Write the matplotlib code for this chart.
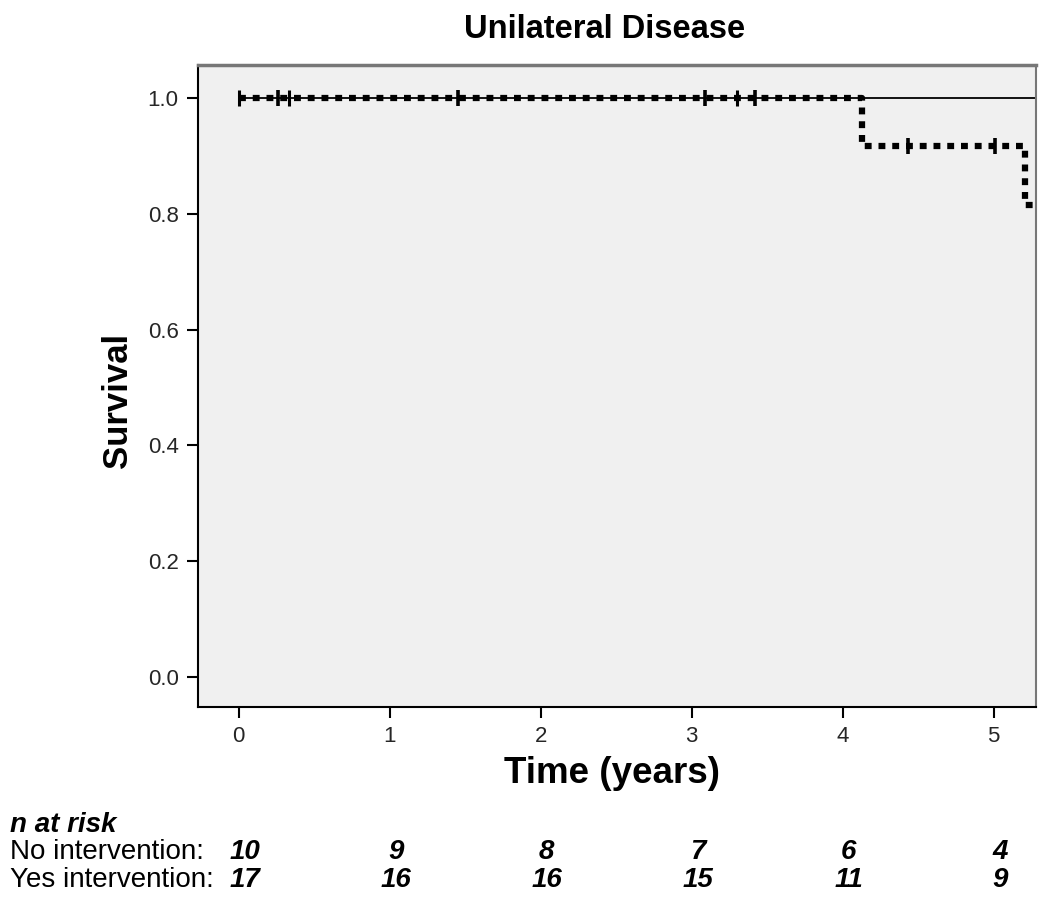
import numpy as np
import matplotlib
matplotlib.use("Agg")
from matplotlib import pyplot as plt
import matplotlib.transforms as mtransforms

plt.rcParams['font.family'] = ['Liberation Sans', 'DejaVu Sans']

# step curves (time in years, survival)
no_times = [0.0, 5.28]
no_surv = [1.0, 1.0]
no_cens_t = [0.0, 0.33, 3.30]
no_cens_s = [1.0, 1.0, 1.0]

yes_times = [0.0, 4.13, 5.21, 5.28]
yes_surv = [1.0, 0.917, 0.815, 0.815]
yes_cens_t = [0.26, 1.45, 3.09, 3.42, 4.43, 5.01]
yes_cens_s = [1.0, 1.0, 1.0, 1.0, 0.917, 0.917]

risk_times = [0, 1, 2, 3, 4, 5]
risk_no = [10, 9, 8, 7, 6, 4]
risk_yes = [17, 16, 16, 15, 11, 9]

fig = plt.figure(figsize=(10.5, 8.98), dpi=100)
ax = fig.add_axes([0.1886, 0.2127, 0.798, 0.715])
ax.set_facecolor('#f0f0f0')

ax.plot(no_times, no_surv, color='black', lw=1.3, drawstyle='steps-post', zorder=2)
ax.plot(yes_times, yes_surv, color='black', lw=4.5, drawstyle='steps-post',
        linestyle=(0, (1.1, 1.1)), dash_capstyle='butt', zorder=3)
ax.plot(no_cens_t, no_cens_s, ls='none', marker='|', ms=12, mew=2.2, color='black', zorder=4)
ax.plot(yes_cens_t, yes_cens_s, ls='none', marker='|', ms=12, mew=2.6, color='black', zorder=4)

ax.set_xlim(-0.27, 5.28)
ax.set_ylim(-0.052, 1.057)
ax.set_xticks(risk_times)
ax.set_yticks([0.0, 0.2, 0.4, 0.6, 0.8, 1.0])
ax.set_yticklabels(['0.0', '0.2', '0.4', '0.6', '0.8', '1.0'])
ax.tick_params(direction='out', length=8, width=1.5, labelsize=16, colors='black',
               labelcolor='#262626', pad=6)
for s in ax.spines.values():
    s.set_linewidth(1.5)
ax.spines['top'].set_color('#777777')
ax.spines['right'].set_color('#777777')
ax.spines['top'].set_linewidth(2.5)

fig.text(605 / 1050, 1 - 30 / 898, 'Unilateral Disease', fontsize=23.5, fontweight='bold',
         ha='center', va='center')
ax.set_ylabel('Survival', fontsize=25, fontweight='bold')
ax.yaxis.set_label_coords(-0.077, 0.478)
ax.set_xlabel('Time (years)', fontsize=26.5, fontweight='bold')
ax.xaxis.set_label_coords(0.494, -0.076)

narrow = ['Liberation Sans Narrow', 'Liberation Sans', 'DejaVu Sans']
trans = mtransforms.blended_transform_factory(ax.transData, fig.transFigure)
fig.text(10 / 1050, 1 - 825 / 898, 'n at risk', fontsize=20, fontweight='bold', style='italic',
         family=narrow, va='center')
fig.text(10 / 1050, 1 - 852 / 898, 'No intervention:', fontsize=20, family=narrow, va='center')
fig.text(10 / 1050, 1 - 880 / 898, 'Yes intervention:', fontsize=20, family=narrow, va='center')
for t, a, b in zip(risk_times, risk_no, risk_yes):
    ax.text(t + 0.04, 1 - 852 / 898, str(a), transform=trans, ha='center', va='center',
            fontsize=20, fontweight='bold', style='italic', family=narrow)
    ax.text(t + 0.04, 1 - 880 / 898, str(b), transform=trans, ha='center', va='center',
            fontsize=20, fontweight='bold', style='italic', family=narrow)

fig.savefig('out.png', dpi=100)
